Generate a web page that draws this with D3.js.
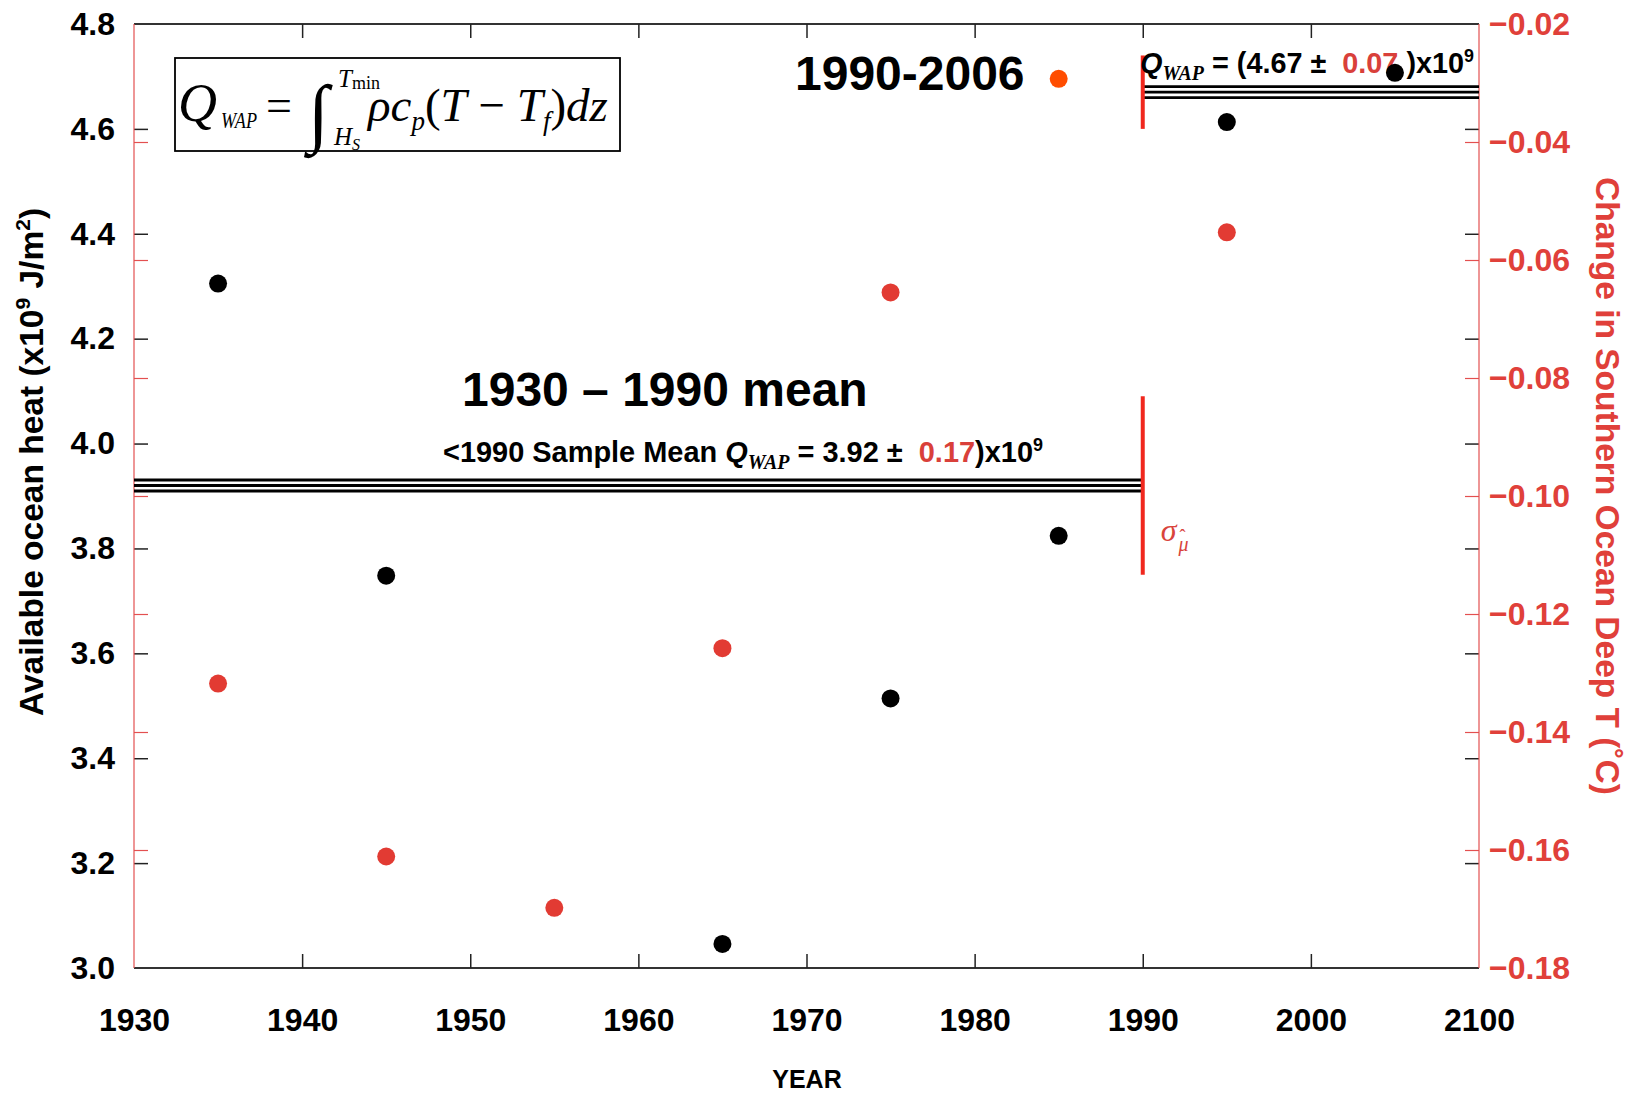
<!DOCTYPE html>
<html>
<head>
<meta charset="utf-8">
<script src="https://cdn.jsdelivr.net/npm/d3@7"></script>
<style>
body { margin: 0; background: #fff; }
text { font-family: "Liberation Sans", Arial, sans-serif; }
.serif { font-family: "Liberation Serif", "Times New Roman", serif; }
</style>
</head>
<body>
<svg id="chart" width="1633" height="1093"></svg>
<script>
// data
const heatYears = [1935, 1945, 1965, 1975, 1985, 1995, 2005];
const heatValues = [4.305, 3.748, 3.046, 3.514, 3.824, 4.613, 4.707];
const tempYears = [1935, 1945, 1955, 1965, 1975, 1995];
const tempValues = [-0.1318, -0.1611, -0.1698, -0.1258, -0.0655, -0.0553];
const markYears = [1985];
const markTemps = [-0.0293];

const meanStart = [1930, 1990];
const meanEnd = [1990, 2010];
const meanValue = [3.92, 4.67];
const meanError = [0.17, 0.07];

const xTickValues = [1930, 1940, 1950, 1960, 1970, 1980, 1990, 2000, 2010];
const xTickLabels = ["1930", "1940", "1950", "1960", "1970", "1980", "1990", "2000", "2100"];
const heatTicks = [3.0, 3.2, 3.4, 3.6, 3.8, 4.0, 4.2, 4.4, 4.6, 4.8];
const tempTicks = [-0.18, -0.16, -0.14, -0.12, -0.10, -0.08, -0.06, -0.04, -0.02];

let padLeft = 134, padRight = 1479, padTop = 24, padBottom = 968;
let black = "#000", red = "#e23b33", redAxis = "#e35050", orange = "#ff4d00";
let nb = "\u00a0";

let svg = d3.select("#chart");

let x = d3.scaleLinear().domain([1930, 2010]).range([padLeft, padRight]);
let yHeat = d3.scaleLinear().domain([3.0, 4.8]).range([padBottom, padTop]);
let yTemp = d3.scaleLinear().domain([-0.18, -0.02]).range([padBottom, padTop]);

// frame
svg.append("line").attr("x1", padLeft).attr("x2", padRight).attr("y1", padTop).attr("y2", padTop)
    .attr("stroke", "#333").attr("stroke-width", 2);
svg.append("line").attr("x1", padLeft).attr("x2", padRight).attr("y1", padBottom).attr("y2", padBottom)
    .attr("stroke", "#333").attr("stroke-width", 2);

// x axis: labels plus inward ticks top and bottom
let xAxis = d3.axisBottom(x).tickValues(xTickValues).tickSize(-14).tickPadding(40)
    .tickFormat(function(d, i) { return xTickLabels[i]; });
let gx = svg.append("g").attr("transform", "translate(0," + padBottom + ")").call(xAxis);
let gxTop = svg.append("g").attr("transform", "translate(0," + padTop + ")")
    .call(d3.axisTop(x).tickValues(xTickValues).tickSize(-14).tickFormat(""));
[gx, gxTop].forEach(function(g) {
    g.select(".domain").remove();
    g.selectAll(".tick line").attr("stroke", "#222").attr("stroke-width", 1.5)
        .filter(function(d) { return d === 1930 || d === 2010; }).remove();
});
gx.selectAll("text").attr("fill", black).style("font-size", "32px").style("font-weight", "bold");

// left axis (heat) with black ticks, labels on the left
let gyL = svg.append("g").attr("transform", "translate(" + padLeft + ",0)")
    .call(d3.axisLeft(yHeat).tickValues(heatTicks).tickSize(-14).tickPadding(19).tickFormat(d3.format(".1f")));
let gyLr = svg.append("g").attr("transform", "translate(" + padRight + ",0)")
    .call(d3.axisRight(yHeat).tickValues(heatTicks.slice(1, -1)).tickSize(-14).tickFormat(""));
// right axis (temperature) with red ticks, labels on the right
let gyR = svg.append("g").attr("transform", "translate(" + padRight + ",0)")
    .call(d3.axisRight(yTemp).tickValues(tempTicks).tickSize(-14).tickPadding(10).tickFormat(d3.format(".2f")));
let gyRl = svg.append("g").attr("transform", "translate(" + padLeft + ",0)")
    .call(d3.axisLeft(yTemp).tickValues(tempTicks.slice(1, -1)).tickSize(-14).tickFormat(""));

[gyL, gyLr].forEach(function(g) {
    g.select(".domain").remove();
    g.selectAll(".tick line").attr("stroke", "#222").attr("stroke-width", 1.5)
        .filter(function(d) { return d === 3.0 || d === 4.8; }).remove();
});
[gyR, gyRl].forEach(function(g) {
    g.select(".domain").remove();
    g.selectAll(".tick line").attr("stroke", redAxis).attr("stroke-width", 1.2)
        .filter(function(d) { return d === -0.18 || d === -0.02; }).remove();
});
gyL.selectAll("text").attr("fill", black).style("font-size", "32px").style("font-weight", "bold");
gyR.selectAll("text").attr("fill", "#e0403a").style("font-size", "32px").style("font-weight", "bold");

// red side lines
svg.append("line").attr("x1", padLeft).attr("x2", padLeft).attr("y1", padTop).attr("y2", padBottom)
    .attr("stroke", redAxis).attr("stroke-width", 1.2);
svg.append("line").attr("x1", padRight).attr("x2", padRight).attr("y1", padTop).attr("y2", padBottom)
    .attr("stroke", redAxis).attr("stroke-width", 1.2);

// mean lines (triple black band)
let offsets = [-5.5, 0, 5.5];
meanValue.forEach(function(v, i) {
    offsets.forEach(function(o) {
        svg.append("line")
            .attr("x1", x(meanStart[i])).attr("x2", x(meanEnd[i]))
            .attr("y1", yHeat(v) + o).attr("y2", yHeat(v) + o)
            .attr("stroke", black).attr("stroke-width", 2.8);
    });
    // standard error bar at 1990
    svg.append("line")
        .attr("x1", x(1990)).attr("x2", x(1990))
        .attr("y1", yHeat(v - meanError[i])).attr("y2", yHeat(v + meanError[i]))
        .attr("stroke", "#f0281e").attr("stroke-width", 4);
});

// sigma label
let sig = svg.append("text").attr("class", "serif").attr("x", x(1990) + 18).attr("y", 541)
    .attr("fill", "#d9443c").style("font-style", "italic");
sig.append("tspan").style("font-size", "32px").text("σ");
sig.append("tspan").attr("dx", 2).attr("dy", 10).style("font-size", "20px").text("μ");
sig.append("tspan").attr("dx", -9).attr("dy", -9).style("font-size", "18px").style("font-style", "normal").text("ˆ");

// axis titles
let yl = svg.append("text").attr("transform", "translate(43,462) rotate(-90)")
    .attr("text-anchor", "middle").style("font-size", "33.5px").style("font-weight", "bold").attr("fill", black);
yl.append("tspan").text("Available ocean heat (x10");
yl.append("tspan").attr("dy", -13).style("font-size", "21px").text("9");
yl.append("tspan").attr("dy", 13).text(" J/m");
yl.append("tspan").attr("dy", -13).style("font-size", "21px").text("2");
yl.append("tspan").attr("dy", 13).text(")");

svg.append("text").attr("transform", "translate(1596,486) rotate(90)")
    .attr("text-anchor", "middle").style("font-size", "33.5px").style("font-weight", "bold")
    .attr("fill", "#e0403a").text("Change in Southern Ocean Deep T (˚C)");

svg.append("text").attr("x", 807).attr("y", 1088).attr("text-anchor", "middle")
    .style("font-size", "25px").style("font-weight", "bold").text("YEAR");

// period titles
svg.append("text").attr("x", 795).attr("y", 90).style("font-size", "48px").style("font-weight", "bold")
    .text("1990-2006");
svg.append("text").attr("x", 462).attr("y", 406).style("font-size", "48px").style("font-weight", "bold")
    .text("1930 – 1990 mean");

// mean value labels
function meanLabel(tx, ty, width, prefix, val, err, gap) {
    let t = svg.append("text").attr("x", tx).attr("y", ty).style("font-size", "29px").style("font-weight", "bold")
        .attr("textLength", width).attr("lengthAdjust", "spacingAndGlyphs");
    t.append("tspan").text(prefix);
    t.append("tspan").style("font-style", "italic").text("Q");
    t.append("tspan").attr("class", "serif").attr("dy", 7).style("font-size", "20px")
        .style("font-style", "italic").style("font-weight", "bold").text("WAP");
    t.append("tspan").attr("dy", -7).text(" = " + val + " ±" + nb + nb);
    t.append("tspan").attr("fill", "#d9403a").text(err);
    t.append("tspan").text(gap + ")x10");
    t.append("tspan").attr("dy", -11).style("font-size", "18px").text("9");
}
meanLabel(443, 462, 600, "<1990 Sample Mean ", "3.92", "0.17", "");
meanLabel(1140, 73, 334, "", "(4.67", "0.07", nb);

// formula box
svg.append("rect").attr("x", 175).attr("y", 58).attr("width", 445).attr("height", 93)
    .attr("fill", "none").attr("stroke", black).attr("stroke-width", 1.8);
function ftext(tx, ty, size, str, italic) {
    return svg.append("text").attr("class", "serif").attr("x", tx).attr("y", ty)
        .style("font-size", size + "px").style("font-style", italic ? "italic" : "normal").text(str);
}
ftext(178, 121, 54, "Q", true);
ftext(221, 128, 24, "WAP", true).attr("textLength", 36).attr("lengthAdjust", "spacingAndGlyphs");
ftext(266, 121, 46, "=", false);
ftext(308, 138, 76, "∫", false);
let lim = ftext(338, 87, 25, "T", true);
lim.append("tspan").style("font-size", "18px").style("font-style", "normal").attr("dy", 2).text("min");
let low = ftext(334, 145, 25, "H", true);
low.append("tspan").style("font-size", "16px").attr("dy", 5).text("S");
let f = svg.append("text").attr("class", "serif").attr("x", 368).attr("y", 121).style("font-size", "47px");
f.append("tspan").style("font-style", "italic").text("ρc");
f.append("tspan").attr("dy", 9).style("font-size", "27px").style("font-style", "italic").text("p");
f.append("tspan").attr("dy", -9).text("(");
f.append("tspan").style("font-style", "italic").text("T");
f.append("tspan").text(" − ");
f.append("tspan").style("font-style", "italic").text("T");
f.append("tspan").attr("dy", 9).style("font-size", "27px").style("font-style", "italic").text("f");
f.append("tspan").attr("dy", -9).text(")");
f.append("tspan").style("font-style", "italic").text("dz");

// points
svg.selectAll(".heat").data(heatYears).enter().append("circle")
    .attr("class", "heat")
    .attr("cx", function(d) { return x(d); })
    .attr("cy", function(d, i) { return yHeat(heatValues[i]); })
    .attr("r", 9).attr("fill", black);
svg.selectAll(".temp").data(tempYears).enter().append("circle")
    .attr("class", "temp")
    .attr("cx", function(d) { return x(d); })
    .attr("cy", function(d, i) { return yTemp(tempValues[i]); })
    .attr("r", 9).attr("fill", red);
svg.selectAll(".mark").data(markYears).enter().append("circle")
    .attr("class", "mark")
    .attr("cx", function(d) { return x(d); })
    .attr("cy", function(d, i) { return yTemp(markTemps[i]); })
    .attr("r", 9).attr("fill", orange);
</script>
</body>
</html>
